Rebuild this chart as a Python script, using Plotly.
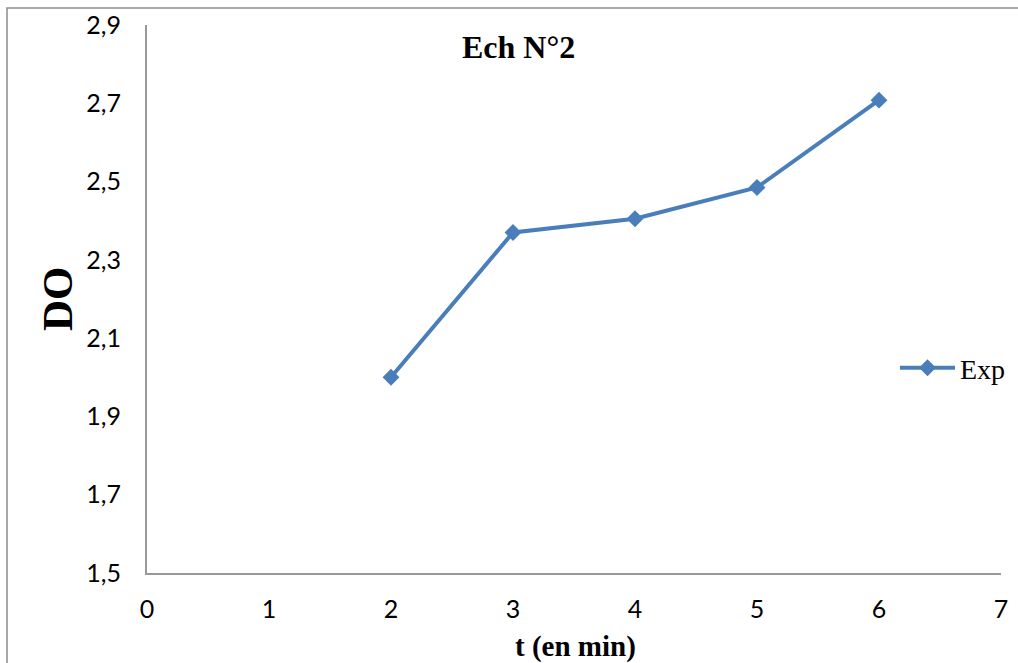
import plotly.graph_objects as go

t_min = [2, 3, 4, 5, 6]
do_vals = [2.0, 2.37, 2.405, 2.485, 2.708]
x_ticks = [0, 1, 2, 3, 4, 5, 6, 7]
y_ticks = [1.5, 1.7, 1.9, 2.1, 2.3, 2.5, 2.7, 2.9]
y_tick_labels = ["1,5", "1,7", "1,9", "2,1", "2,3", "2,5", "2,7", "2,9"]

L, R, T, B = 147, 17, 25, 90
W, H = 1018, 663
pw, ph = W - L - R, H - T - B

SERIF = "Times New Roman, Liberation Serif, serif"

fig = go.Figure()
fig.add_trace(go.Scatter(
    x=t_min, y=do_vals, mode="lines+markers", name="Exp",
    line=dict(color="#4A7EBB", width=4),
    marker=dict(symbol="diamond", size=13, color="#4A7EBB"),
))

axis_common = dict(showgrid=False, zeroline=False, showline=True, linecolor="#999999",
                   linewidth=2, ticks="", automargin=False,
                   tickfont=dict(family="Lato, Open Sans, sans-serif", size=25, color="#000"))

ann_common = dict(xref="paper", yref="paper", showarrow=False, xanchor="center", yanchor="middle")

fig.update_layout(
    width=W, height=H,
    margin=dict(l=L, r=R, t=T, b=B, autoexpand=False),
    plot_bgcolor="white", paper_bgcolor="white",
    xaxis=dict(range=[0, 7], tickvals=x_ticks, ticklabelstandoff=13, **axis_common),
    yaxis=dict(range=[1.5, 2.9], tickvals=y_ticks, ticktext=y_tick_labels, ticklabelstandoff=19, **axis_common),
    showlegend=True,
    legend=dict(x=(895 - L) / pw, y=1 - (368 - T) / ph, xanchor="left", yanchor="middle",
                itemwidth=55,
                font=dict(family=SERIF, size=28, color="#000"),
                bgcolor="rgba(0,0,0,0)"),
    annotations=[
        dict(text="<b>Ech N°2</b>", x=(518 - L) / pw, y=1 - (47 - T) / ph,
             font=dict(family=SERIF, size=32, color="#000"), **ann_common),
        dict(text="<b>DO</b>", x=(57 - L) / pw, y=1 - (299 - T) / ph, textangle=-90,
             font=dict(family=SERIF, size=43, color="#000"), **ann_common),
        dict(text="<b>t (en min)</b>", x=(575 - L) / pw, y=1 - (646 - T) / ph,
             font=dict(family=SERIF, size=29, color="#000"), **ann_common),
    ],
    shapes=[
        dict(type="rect", xref="paper", yref="paper",
             x0=(7 - L) / pw, x1=(1030 - L) / pw, y0=1 - (680 - T) / ph, y1=1 + (T - 8) / ph,
             line=dict(color="#8c8c8c", width=1.5), fillcolor="rgba(0,0,0,0)", layer="below"),
    ],
)

fig.write_html("out.html")
